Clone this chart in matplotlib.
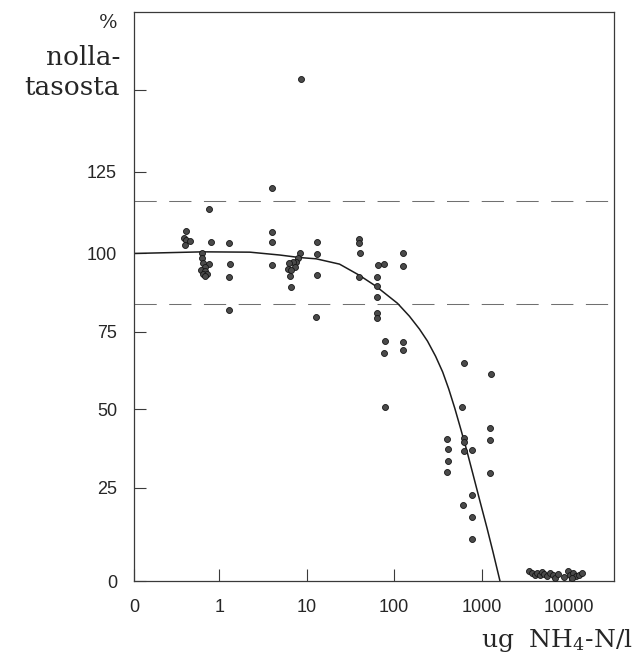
import numpy as np
import matplotlib
matplotlib.use("Agg")
import matplotlib.pyplot as plt
from matplotlib.ticker import FixedLocator, FixedFormatter, NullLocator

plt.rcParams["lines.scale_dashes"] = False
plt.rcParams["mathtext.fontset"] = "dejavuserif"

# --- observations: NH4-N concentration (ug/l) vs. response (% of zero level) ---
conc = [
    0.42, 0.39, 0.42, 0.46, 0.41,
    0.64, 0.64, 0.65, 0.77, 0.68, 0.62, 0.69, 0.65, 0.73, 0.68,
    0.77, 0.80,
    1.30, 1.32, 1.29, 1.29,
    4.0, 4.0, 4.0, 4.0,
    8.3, 8.0, 7.6, 7.0, 6.3, 7.3, 6.1, 6.6, 6.4, 6.6, 8.5,
    13.2, 13.0, 13.0, 12.7,
    39.6, 40.0, 41.0, 40.0,
    66, 77, 64, 63.5, 63.5, 63, 63.5, 79, 77, 79,
    126, 126, 125, 125,
    398, 410, 410, 398,
    633, 600, 620, 620, 633, 780, 777, 606, 777, 780,
    1290, 1230, 1250, 1230,
    3510, 3740, 4080, 4260, 4660, 4860, 5170, 5640, 6060, 6610,
    6920, 7540, 8770, 9780, 10230, 11200, 12000, 13100, 14000, 10700,
]
pct = [
    107.0, 104.8, 104.1, 103.9, 102.5,
    100.0, 98.4, 97.0, 96.6, 95.7, 94.7, 94.4, 93.6, 93.3, 92.8,
    113.5, 103.5,
    103.2, 96.8, 92.5, 81.9,
    120.2, 106.5, 103.5, 96.2,
    100.0, 98.7, 97.3, 97.3, 97.0, 95.7, 95.2, 94.7, 92.8, 89.2, 153.5,
    103.6, 99.7, 93.1, 79.8,
    104.5, 103.2, 100.0, 92.5,
    96.3, 96.5, 92.5, 89.6, 86.2, 80.9, 79.3, 72.1, 68.3, 50.7,
    100.0, 96.0, 71.8, 69.1,
    40.4, 37.2, 33.5, 29.9,
    65.0, 50.7, 40.7, 39.4, 36.8, 37.0, 23.0, 20.4, 17.2, 11.2,
    61.2, 43.9, 40.1, 29.6,
    2.8, 2.1, 1.6, 2.2, 1.6, 2.5, 1.9, 1.3, 2.2, 1.6,
    0.7, 1.9, 1.2, 2.8, 1.6, 2.2, 1.3, 1.6, 2.2, 0.7,
]

# fitted dose-response curve
fit_conc = [0.106, 0.65, 2.24, 4.93, 8.3, 12.8, 23.7, 39.6, 61.5, 109,
            149, 194, 240, 297, 358, 420, 492, 577, 677, 793, 955, 1150,
            1346, 1618]
fit_pct = [100.0, 100.5, 100.4, 99.5, 98.7, 98.3, 96.6, 93.1, 89.6, 84.1,
           80.0, 75.9, 72.0, 67.1, 62.0, 56.5, 50.3, 43.6, 36.7, 29.4, 21.4,
           14.2, 7.8, 0.0]

# tolerance band around the zero level
band_low, band_high = 84, 116

x_ticks = [0.106, 1, 10, 100, 1000, 10000]
x_labels = ["0", "1", "10", "100", "1000", "10000"]
y_ticks = [0, 25, 50, 75, 100, 125, 150]
y_labels = ["0", "25", "50", "75", "100", "125", ""]

# the printed ordinate is slightly stretched in its lowest interval
_axis_vals = np.array([0, 25, 50, 75, 100, 125, 150, 175], dtype=float)
_axis_len = np.array([0, 93.3, 172, 249.3, 327.7, 409.3, 491.5, 569.0])


def _fwd(v):
    return np.interp(v, _axis_vals, _axis_len)


def _inv(p):
    return np.interp(p, _axis_len, _axis_vals)


W, H = 636, 667
fig = plt.figure(figsize=(W / 100, H / 100), dpi=100)
ax = fig.add_axes([134 / W, 1 - 581 / H, 480 / W, (581 - 12.3) / H])

ax.set_xscale("log")
ax.set_yscale("function", functions=(_fwd, _inv))
ax.set_xlim(0.1059, 32550)
ax.set_ylim(0, 175)

ink = "#262626"
for s in ax.spines.values():
    s.set_linewidth(0.9)
    s.set_color("#3a3a3a")

for y in (band_low, band_high):
    ax.axhline(y, color="#707070", lw=0.75, dashes=(16, 9), zorder=1)

ax.plot(fit_conc, fit_pct, color="#1c1c1c", lw=1.1, zorder=2,
        solid_joinstyle="round")
ax.plot(conc, pct, "o", ms=4.3, mfc="#4a4a4a", mec="#151515", mew=0.6,
        zorder=3, clip_on=False)

ax.xaxis.set_major_locator(FixedLocator(x_ticks))
ax.xaxis.set_major_formatter(FixedFormatter(x_labels))
ax.xaxis.set_minor_locator(NullLocator())
ax.yaxis.set_major_locator(FixedLocator(y_ticks))
ax.yaxis.set_major_formatter(FixedFormatter(y_labels))
ax.yaxis.set_minor_locator(NullLocator())

ax.tick_params(axis="both", direction="in", length=8.6, width=0.8,
               color="#3a3a3a", labelcolor=ink)
ax.tick_params(axis="x", pad=13)
ax.tick_params(axis="y", pad=12.2)
for lab in ax.get_xticklabels() + ax.get_yticklabels():
    lab.set_fontfamily("Liberation Sans")
    lab.set_fontsize(13)

serif = "DejaVu Serif"
fig.text(118 / W, 1 - 23 / H, "%", ha="right", va="center",
         family=serif, fontsize=14, color=ink)
fig.text(120 / W, 1 - 65 / H, "nolla-", ha="right", va="baseline",
         family=serif, fontsize=19, color=ink)
fig.text(120 / W, 1 - 95 / H, "tasosta", ha="right", va="baseline",
         family=serif, fontsize=19, color=ink)
fig.text(633 / W, 1 - 647 / H, "ug  NH$_4$-N/l", ha="right", va="baseline",
         family=serif, fontsize=18, color=ink)

fig.savefig("out.png", dpi=100, facecolor="white")
